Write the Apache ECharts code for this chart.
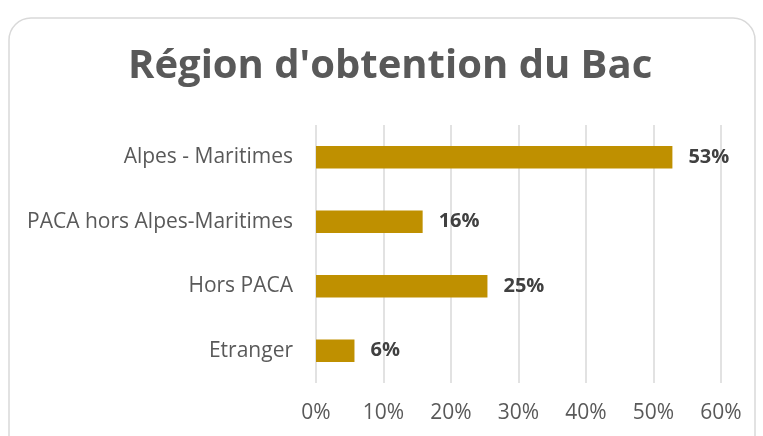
<!DOCTYPE html>
<html>
<head>
<meta charset="utf-8">
<script src="https://cdn.jsdelivr.net/npm/echarts@6/dist/echarts.min.js"></script>
<style>
  html, body { margin: 0; padding: 0; background: #fff; }
  #chart { width: 763px; height: 436px; }
</style>
</head>
<body>
<div id="chart"></div>
<script>
// données
var categories = ['Alpes - Maritimes', 'PACA hors Alpes-Maritimes', 'Hors PACA', 'Etranger'];
var values = [52.8, 15.8, 25.4, 5.7];
var tickLabels = ['0%', '10%', '20%', '30%', '40%', '50%', '60%'];

var chart = echarts.init(document.getElementById('chart'));
chart.setOption({
  animation: false,
  title: {
    text: "Région d'obtention du Bac",
    left: 123,
    top: 42,
    textStyle: {
      fontFamily: 'Open Sans',
      fontWeight: 'bold',
      fontSize: 40,
      color: '#595959'
    }
  },
  graphic: [{
    type: 'rect',
    shape: { x: 9, y: 18, width: 746, height: 440, r: 22 },
    style: { fill: 'none', stroke: '#d9d9d9', lineWidth: 1.5 },
    silent: true
  }],
  grid: { left: 316, right: 42, top: 125, bottom: 53 },
  xAxis: {
    type: 'value',
    min: 0,
    max: 60,
    interval: 10,
    axisLine: { show: false },
    axisTick: { show: false },
    splitLine: { lineStyle: { color: '#d9d9d9', width: 1.5 } },
    axisLabel: {
      margin: 20,
      fontFamily: 'Open Sans',
      fontSize: 21,
      color: '#595959',
      formatter: function (v) { return tickLabels[v / 10]; }
    }
  },
  yAxis: {
    type: 'category',
    inverse: true,
    data: categories,
    axisLine: { show: false },
    axisTick: { show: false },
    axisLabel: {
      margin: 23,
      fontFamily: 'Open Sans',
      fontSize: 21,
      color: '#595959'
    }
  },
  series: [{
    type: 'bar',
    data: values,
    barWidth: '35%',
    itemStyle: { color: '#bf9000' },
    label: {
      show: true,
      position: 'right',
      distance: 16,
      fontFamily: 'Open Sans',
      fontWeight: 'bold',
      fontSize: 20,
      color: '#404040',
      formatter: function (p) { return Math.round(p.value) + '%'; }
    }
  }]
});
</script>
</body>
</html>
